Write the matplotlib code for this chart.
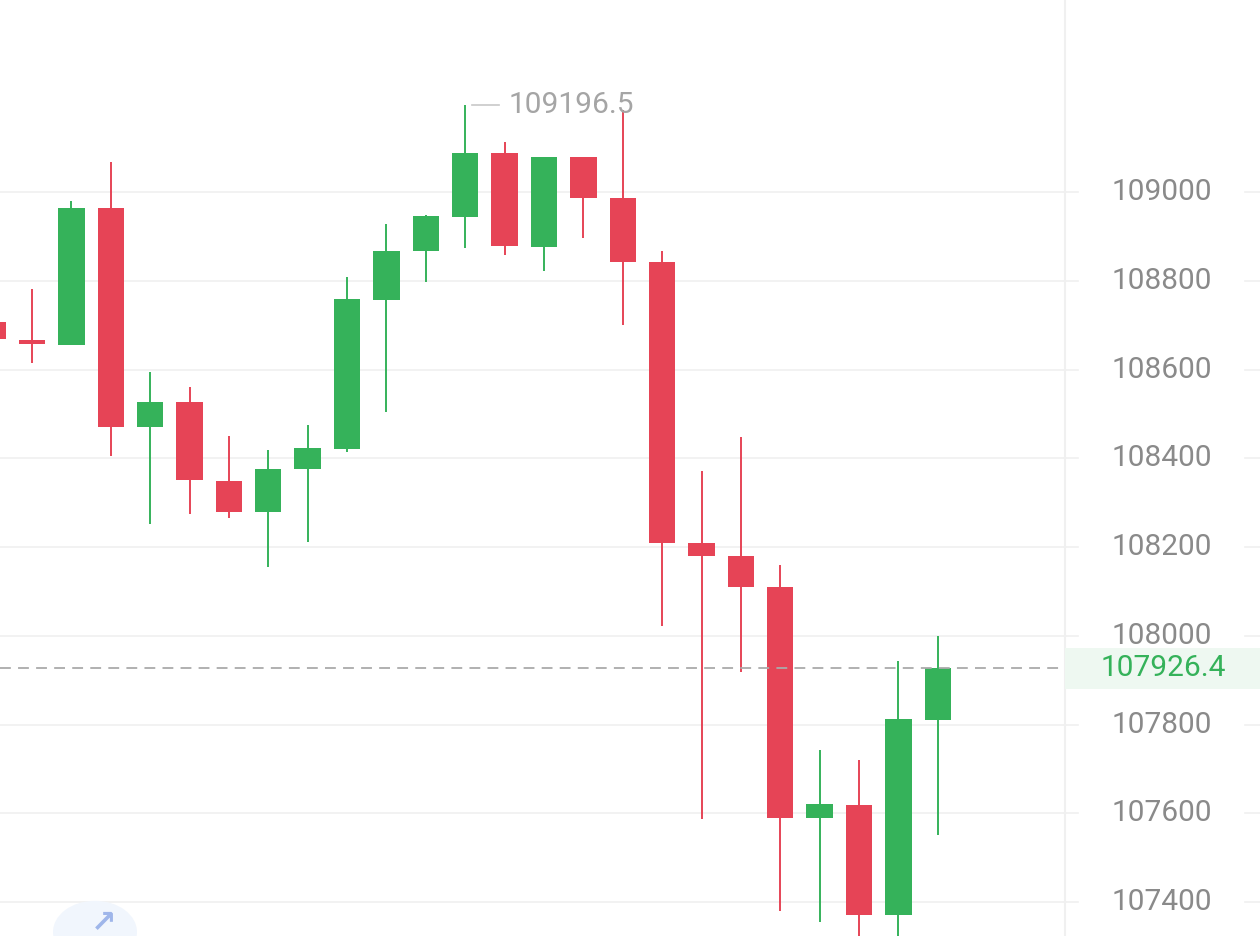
import matplotlib
matplotlib.use("Agg")
import matplotlib.pyplot as plt
from matplotlib.patches import Rectangle, Circle
import matplotlib.transforms as mtransforms

# ---- data ----
opens  = [108706, 108667, 108656, 108965, 108471, 108526, 108349, 108279, 108375,
          108421, 108757, 108866, 108944, 109089, 108877, 109079, 108986, 108842,
          108208, 108180, 108110, 107590, 107619, 107370, 107811]
closes = [108669, 108657, 108965, 108471, 108527, 108350, 108280, 108376, 108422,
          108758, 108867, 108946, 109089, 108878, 109080, 108987, 108842, 108208,
          108180, 108110, 107590, 107620, 107370, 107812, 107926.4]
highs  = [108715, 108781, 108980, 109067, 108595, 108560, 108450, 108419, 108475,
          108808, 108929, 108948, 109196.5, 109112, 109080, 109079, 109185, 108867,
          108371, 108447, 108160, 107743, 107720, 107944, 107999]
lows   = [108660, 108615, 108656, 108405, 108252, 108274, 108265, 108156, 108211,
          108413, 108505, 108797, 108873, 108858, 108822, 108897, 108700, 108022,
          107588, 107918, 107380, 107355, 107320, 107320, 107551]
ytick_values = [109000, 108800, 108600, 108400, 108200, 108000, 107800, 107600, 107400]
ytick_labels = ["109000", "108800", "108600", "108400", "108200", "108000", "107800", "107600", "107400"]
last_price = 107926.4
last_label = "107926.4"
high_label = "109196.5"
high_index = 12

GREEN = "#35b25a"
RED = "#e64456"
TXT = "#8a8a8a"

plt.rcParams['font.family'] = ['Roboto', 'DejaVu Sans']

W, H = 1260, 936
fig = plt.figure(figsize=(W / 100, H / 100), dpi=100)
ax = fig.add_axes([0, 0, 1, 1])
x0, x1 = 0.1876, 32.18
ax.set_xlim(x0, x1)
ax.set_ylim(107323.4, 109432.7)
for s in ax.spines.values():
    s.set_visible(False)
ax.set_xticks([])
ax.set_yticks([])

divider_x = 1065 / W

# grid lines (with gap behind labels)
for v in ytick_values:
    ax.axhline(v, xmin=0, xmax=1078 / W, color="#f0f0f0", lw=1.2, zorder=0)
    ax.axhline(v, xmin=1245 / W, xmax=1, color="#f0f0f0", lw=1.2, zorder=0)

# divider
ax.axvline(x0 + divider_x * (x1 - x0), color="#f0f0f0", lw=1.5, zorder=0)

# candles
bw = 0.67
for i, (o, c, h, l) in enumerate(zip(opens, closes, highs, lows)):
    col = GREEN if c >= o else RED
    ax.plot([i, i], [l, h], color=col, lw=1.4, solid_capstyle="butt", zorder=2)
    lo, hi = min(o, c), max(o, c)
    ax.add_patch(Rectangle((i - bw / 2, lo), bw, max(hi - lo, 6), facecolor=col,
                           edgecolor="none", zorder=3))

trans = mtransforms.blended_transform_factory(ax.transAxes, ax.transData)

# last price dashed line
ax.plot([0, divider_x], [last_price, last_price], transform=trans, color="#aaaaaa",
        lw=1.3, dashes=(6, 4), zorder=4)
ax.add_patch(Rectangle((divider_x, last_price - 47), 1 - divider_x, 94, transform=trans,
                       facecolor="#eef8f1", edgecolor="none", zorder=1))

# y labels
for v, lab in zip(ytick_values, ytick_labels):
    ax.text(1162 / W, v, lab, transform=trans, ha="center", va="center",
            fontsize=21.5, color=TXT, zorder=5)
ax.text(1163 / W, last_price, last_label, transform=trans, ha="center", va="center",
        fontsize=21.5, color=GREEN, zorder=6)

# high marker
ax.plot([high_index + 0.18, high_index + 0.87], [highs[high_index]] * 2, color="#c8c8c8",
        lw=1.2, zorder=4)
ax.text(high_index + 1.1, highs[high_index], high_label, ha="left", va="center",
        fontsize=21.5, color="#a5a5a5", zorder=5)

# faint round button bottom-left
ax.add_patch(Circle((95 / W, 1 - 932 / H), 42 / W, transform=ax.transAxes,
                    facecolor="#f1f6fd", edgecolor="none", zorder=1))
fig.text(104 / W, 1 - 924 / H, "\u2197", ha="center", va="center", fontsize=22,
         color="#9fb6ea", family=['DejaVu Sans'], fontweight="bold")

fig.savefig("out.png", dpi=100, facecolor="white")
